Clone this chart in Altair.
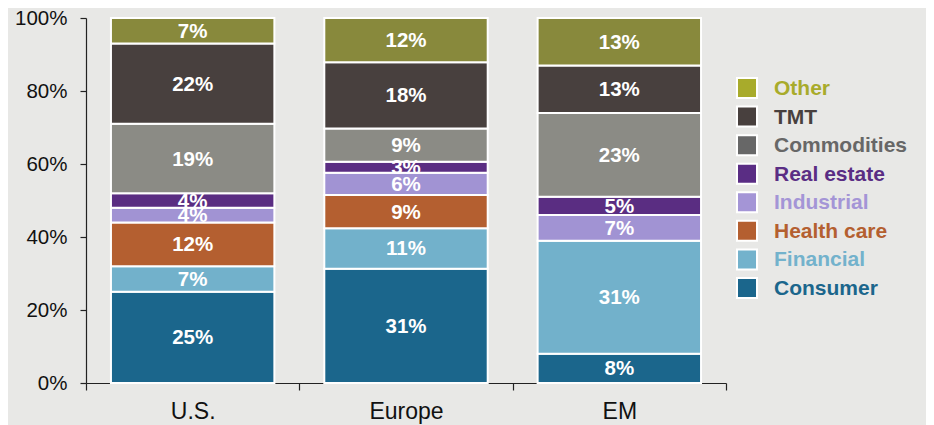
import altair as alt
import pandas as pd

regions = ["U.S.", "Europe", "EM"]
sectors = ["Consumer", "Financial", "Health care", "Industrial", "Real estate",
           "Commodities", "TMT", "Other"]
us_vals = [25, 7, 12, 4, 4, 19, 22, 7]
europe_vals = [31, 11, 9, 6, 3, 9, 18, 12]
em_vals = [8, 31, 0, 7, 5, 23, 13, 13]

bar_colors = ["#1b668c", "#72b1cb", "#b45f30", "#a193d3", "#5a2d82",
              "#8b8b85", "#48403e", "#88893c"]
legend_order = ["Other", "TMT", "Commodities", "Real estate", "Industrial",
                "Health care", "Financial", "Consumer"]
legend_colors = ["#a8ab2b", "#48403e", "#676767", "#5a2d84", "#a495d6",
                 "#b45f30", "#73b2cc", "#1b668c"]

rows = []
for region, vals in zip(regions, [us_vals, europe_vals, em_vals]):
    for i, (s, v) in enumerate(zip(sectors, vals)):
        if v > 0:
            rows.append({"region": region, "sector": s, "value": v, "order": i})
df = pd.DataFrame(rows)
leg_df = pd.DataFrame({"Legend": legend_order})

FONT = "Liberation Sans"

base = alt.Chart(df).transform_stack(
    stack="value", as_=["y0", "y1"], groupby=["region"],
    offset="normalize", sort=[alt.SortField("order", order="ascending")]
).transform_calculate(
    ymid="(datum.y0 + datum.y1) / 2",
    label="datum.value + '%'"
)

x_scale = alt.Scale(paddingInner=0, paddingOuter=0)

x_enc = alt.X("region:N", sort=regions, scale=x_scale,
              axis=alt.Axis(title=None, labelAngle=0, tickBand="extent",
                            tickSize=7, labelFontSize=23, labelPadding=10,
                            labelFont=FONT, labelColor="#111111",
                            domainColor="#222222", tickColor="#222222",
                            domainWidth=1.2, tickWidth=1.2))

bars = base.mark_bar(stroke="white", strokeWidth=2,
                     width=alt.RelativeBandSize(0.766)).encode(
    x=x_enc,
    y=alt.Y("y0:Q", scale=alt.Scale(domain=[0, 1]),
            axis=alt.Axis(title=None, format="%", values=[0, 0.2, 0.4, 0.6, 0.8, 1.0],
                          grid=False, tickSize=6, labelFontSize=20.5, labelPadding=13,
                          labelFont=FONT, labelColor="#111111",
                          domainColor="#222222", tickColor="#222222",
                          domainWidth=1.2, tickWidth=1.2)),
    y2="y1:Q",
    color=alt.Color("sector:N", scale=alt.Scale(domain=sectors, range=bar_colors),
                    legend=None),
)

labels = base.mark_text(color="white", fontWeight="bold", fontSize=20.5,
                        font=FONT, baseline="middle", dy=1).encode(
    x=alt.X("region:N", sort=regions, scale=x_scale),
    y=alt.Y("ymid:Q"),
    text="label:N",
)

main = alt.layer(bars, labels)

leg_y = alt.Y("Legend:N", sort=legend_order,
              scale=alt.Scale(range=[70, 270], padding=0), axis=None)
leg_color = alt.Color("Legend:N", scale=alt.Scale(domain=legend_order, range=legend_colors),
                      legend=None)

leg_sq = alt.Chart(leg_df).mark_square(size=400, opacity=1, stroke="white",
                                       strokeWidth=2, filled=True).encode(
    x=alt.value(661), y=leg_y, color=leg_color)
leg_txt = alt.Chart(leg_df).mark_text(align="left", baseline="middle", dy=1,
                                      fontWeight="bold", fontSize=21, font=FONT).encode(
    x=alt.value(688), y=leg_y, color=leg_color, text="Legend:N")
legend = alt.layer(leg_sq, leg_txt)

chart = alt.layer(main, legend).resolve_scale(
    y="independent", color="independent"
).properties(
    width=640, height=365,
    background="#e8e8e6",
    padding={"left": 78, "top": 10, "right": 200, "bottom": 46},
    autosize=alt.AutoSizeParams(type="none"),
).configure_view(stroke=None)

chart.save("out.html", embed_options={"renderer": "svg", "actions": False})
